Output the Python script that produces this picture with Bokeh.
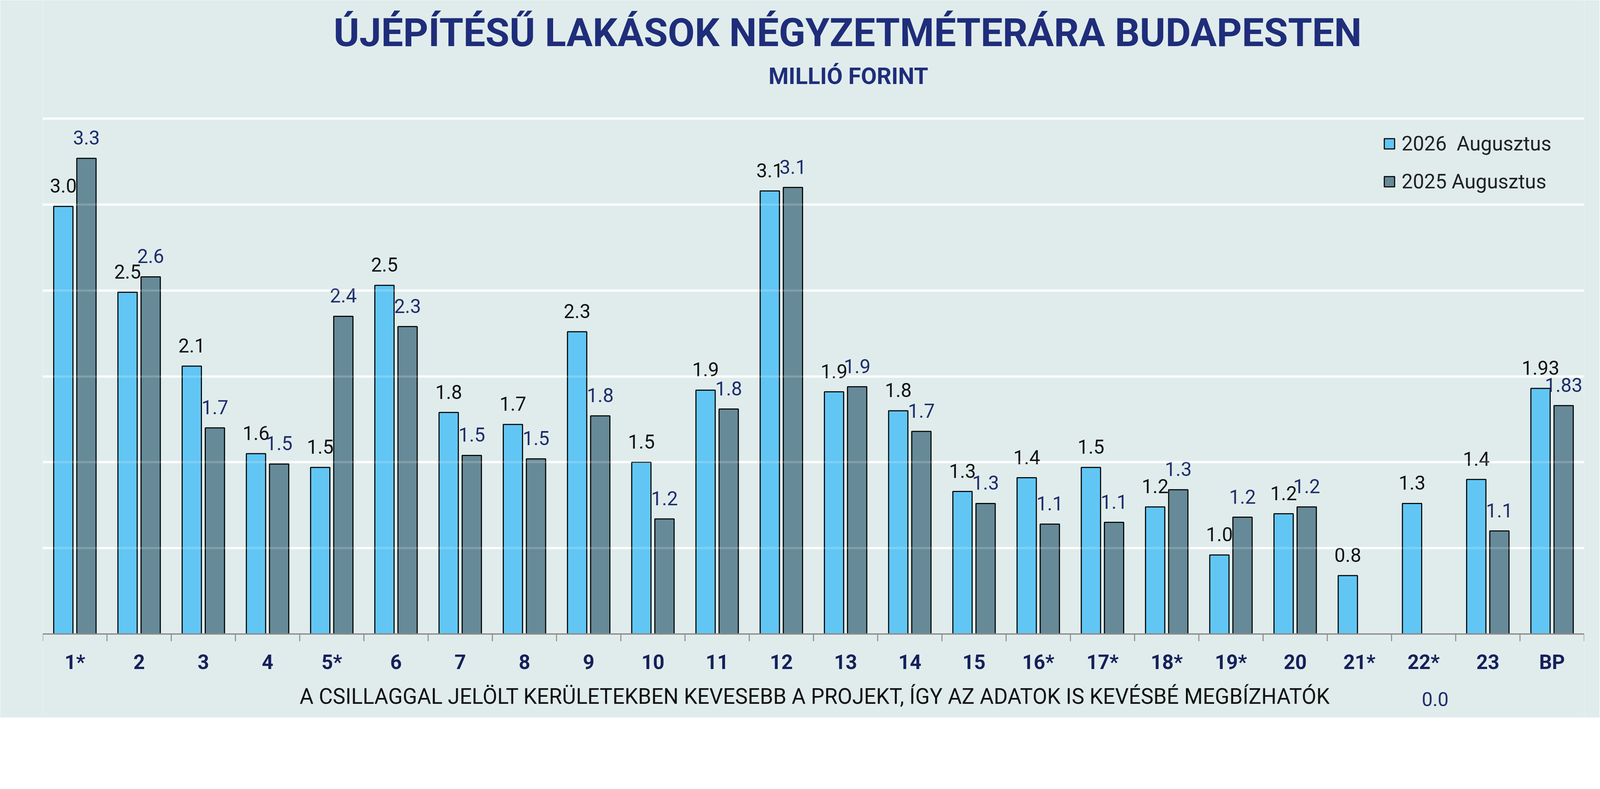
import html
from bokeh.plotting import figure
from bokeh.layouts import column
from bokeh.models import (ColumnDataSource, FactorRange, Range1d, LabelSet, Grid, FixedTicker,
                          Div)
from bokeh.transform import dodge
from bokeh.core.properties import value
from bokeh.embed import file_html
from bokeh.resources import INLINE

# ---------------- data ----------------
districts = ["1*", "2", "3", "4", "5*", "6", "7", "8", "9", "10", "11", "12",
             "13", "14", "15", "16*", "17*", "18*", "19*", "20", "21*", "22*", "23", "BP"]
price_2026 = [2.99, 2.49, 2.06, 1.55, 1.47, 2.53, 1.79, 1.72, 2.26, 1.50, 1.92, 3.08,
              1.91, 1.80, 1.33, 1.41, 1.47, 1.24, 0.96, 1.20, 0.84, 1.26, 1.40, 1.93]
price_2025 = [3.27, 2.58, 1.70, 1.49, 2.35, 2.29, 1.54, 1.52, 1.77, 1.17, 1.81, 3.10,
              1.94, 1.68, 1.26, 1.14, 1.15, 1.34, 1.18, 1.24, 0.00, 0.00, 1.10, 1.83]
series_names = ["2026  Augusztus", "2025 Augusztus"]
unlabelled_2025 = ["21*"]
two_decimal_categories = ["BP"]
y_ticks = [0.5, 1.0, 1.5, 2.0, 2.5, 3.0, 3.5]

title_text = "ÚJÉPÍTÉSŰ LAKÁSOK NÉGYZETMÉTERÁRA BUDAPESTEN"
subtitle_text = "MILLIÓ FORINT"
note_text = ("A CSILLAGGAL JELÖLT KERÜLETEKBEN KEVESEBB A PROJEKT, "
             "ÍGY AZ ADATOK IS KEVÉSBÉ MEGBÍZHATÓK")

# ---------------- style ----------------
FONT = "Roboto"
BG = "#E0ECEC"
C26 = "#62C6F4"
C25 = "#668A98"
NAVY = "#1F2D7A"
DARKNAVY = "#16205A"
AXIS_GREY = "#8C8C8C"

# layout, in photographed pixels (the page is photographed at a scale of D per css px)
D = 1.09
WIN_W, WIN_H = 4482, 2019
FRAME_L, FRAME_R = 127.7, 4429.0
AXIS_Y = 1776.5          # photographed y of the axis (value 0.5)
PX_PER_UNIT = 479.0      # photographed px per million forint


def css(v):
    return v / D


FIG_W = int(WIN_W / D - 16)
FIG_H = int(WIN_H / D - 16)
MB_L = int(round(css(FRAME_L) - 8))
MB_R = int(round(FIG_W - (css(FRAME_R) - 8)))
y_floor = y_ticks[0]
y_top = y_floor + (AXIS_Y - 8 * D) / PX_PER_UNIT
y_bot = y_floor - ((FIG_H + 8) * D - AXIS_Y) / PX_PER_UNIT


def fs(px):
    return f"{css(px):.1f}px"


def fmt(cat, v):
    return f"{v:.2f}" if cat in two_decimal_categories else f"{v:.1f}"


lab26 = [fmt(c, v) for c, v in zip(districts, price_2026)]
lab25 = ["" if c in unlabelled_2025 else fmt(c, v) for c, v in zip(districts, price_2025)]
# bars are clipped at the value axis floor, as in the original chart
bar26 = [max(v, y_floor) for v in price_2026]
bar25 = [max(v, y_floor) for v in price_2025]

src = ColumnDataSource(dict(district=districts, v26=price_2026, v25=price_2025,
                            b26=bar26, b25=bar25, t26=lab26, t25=lab25,
                            floor=[y_floor] * len(districts)))

p = figure(x_range=FactorRange(factors=districts, range_padding=0),
           y_range=Range1d(y_bot, y_top),
           width=FIG_W, height=FIG_H, output_backend="svg", toolbar_location=None,
           x_axis_location=None, y_axis_location=None,
           min_border_left=MB_L, min_border_right=MB_R,
           min_border_top=0, min_border_bottom=0)
p.background_fill_color = BG
p.border_fill_color = BG
p.outline_line_color = None
for g in p.grid:
    g.visible = False

grid = Grid(dimension=1, ticker=FixedTicker(ticks=y_ticks),
            grid_line_color="white", grid_line_width=css(6))
p.add_layout(grid, "center")
grid_over = Grid(dimension=1, ticker=FixedTicker(ticks=y_ticks[1:]), level="overlay",
                 grid_line_color="white", grid_line_width=css(6), grid_line_alpha=0.18)
p.add_layout(grid_over, "center")

p.vbar(x=dodge("district", -0.18, range=p.x_range), top="b26", bottom="floor",
       width=0.30, source=src, fill_color=C26, line_color="black", line_width=css(3),
       legend_label=series_names[0])
p.vbar(x=dodge("district", 0.18, range=p.x_range), top="b25", bottom="floor",
       width=0.30, source=src, fill_color=C25, line_color="black", line_width=css(3),
       legend_label=series_names[1])

# category axis: base line, ticks between the categories, labels
ends = ColumnDataSource(dict(first=[districts[0]], last=[districts[-1]], y=[y_floor]))
p.segment(x0=dodge("first", -0.5, range=p.x_range), x1=dodge("last", 0.5, range=p.x_range),
          y0="y", y1="y", source=ends, line_color=AXIS_GREY, line_width=css(4))
tick_len = 20 / PX_PER_UNIT
src.data["tick_end"] = [y_floor - tick_len] * len(districts)
for off in (-0.5, 0.5):
    p.segment(x0=dodge("district", off, range=p.x_range),
              x1=dodge("district", off, range=p.x_range),
              y0="floor", y1="tick_end", source=src,
              line_color=AXIS_GREY, line_width=css(2.5))
p.add_layout(LabelSet(x="district", y="floor", text="district", source=src,
                      y_offset=-css(1874 - AXIS_Y), text_align="center",
                      text_baseline="alphabetic", text_font=value(FONT),
                      text_font_size=fs(56), text_font_style="bold",
                      text_color=DARKNAVY))

# value labels
common = dict(source=src, text_align="center", text_baseline="alphabetic",
              text_font=value(FONT), text_font_size=fs(54), y_offset=css(38))
p.add_layout(LabelSet(x=dodge("district", -0.18, range=p.x_range), y="v26", text="t26",
                      text_color="#111111", **common))
p.add_layout(LabelSet(x=dodge("district", 0.18, range=p.x_range), y="v25", text="t25",
                      text_color="#1F2D6B", **common))

lg = p.legend[0]
lg.location = (int(css(3868 - FRAME_L)), int((FIG_H + 8) - css(548)))
lg.background_fill_alpha = 0
lg.border_line_color = None
lg.padding = 0
lg.margin = 0
lg.spacing = int(css(40))
lg.glyph_width = int(css(37))
lg.glyph_height = int(css(37))
lg.label_standoff = int(css(17))
lg.label_text_font = FONT
lg.label_text_font_size = fs(56)
lg.label_text_color = "#222222"

# title, subtitle and note as html text laid over the chart
ASC = 0.842   # baseline position within a line box of line-height 1 (Roboto)
BOX_W = 3800


def overlay_text(txt, cx_px, base_px, size_px, weight, color):
    size = css(size_px)
    top = css(base_px) - 8 - ASC * size
    left = css(cx_px) - 8 - BOX_W / 2
    inner = (f'<div style="display:block;width:{BOX_W}px;white-space:nowrap;'
             f'text-align:center;font-family:{FONT};'
             f'font-weight:{weight};font-size:{size:.1f}px;line-height:1;color:{color};">'
             f'{html.escape(txt)}</div>')
    return Div(text=inner, width=BOX_W, margin=0,
               styles={"position": "absolute", "left": f"{left:.1f}px",
                       "top": f"{top:.1f}px", "width": f"{BOX_W}px",
                       "text-align": "center"})


divs = [overlay_text(title_text, 2374, 138, 109, "bold", NAVY),
        overlay_text(subtitle_text, 2376, 244, 64, "bold", NAVY),
        overlay_text(note_text, 2282, 1972, 59.5, "normal", "#111111")]

layout = column(p, *divs)

open("out.html", "w", encoding="utf-8").write(file_html(layout, INLINE))
